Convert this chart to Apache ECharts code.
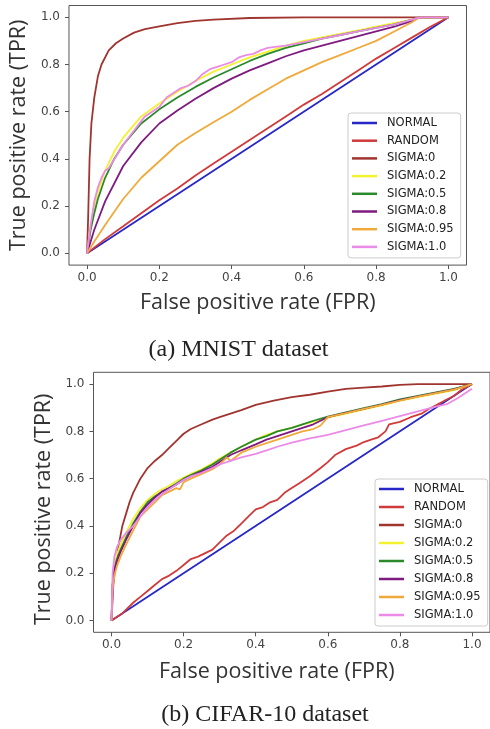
<!DOCTYPE html>
<html>
<head>
<meta charset="utf-8">
<script src="https://cdn.jsdelivr.net/npm/echarts@6/dist/echarts.min.js"></script>
<style>
html,body{margin:0;padding:0;background:#fff;}
#chart{width:490px;height:729px;}
</style>
</head>
<body>
<div id="chart"></div>
<script>
// ---------- labels ----------
var seriesNames = ['NORMAL','RANDOM','SIGMA:0','SIGMA:0.2','SIGMA:0.5','SIGMA:0.8','SIGMA:0.95','SIGMA:1.0'];
var seriesColors = ['#2727c8','#d03a3a','#a0352f','#f2f230','#2a8a2a','#7e1a80','#f0a93a','#ec8ae8'];
var tickValues = [0,0.2,0.4,0.6,0.8,1.0];
var xTitle = 'False positive rate (FPR)';
var yTitle = 'True positive rate (TPR)';
var captionA = '(a) MNIST dataset';
var captionB = '(b) CIFAR-10 dataset';

// ---------- (a) MNIST ----------
var mnistNormal = [[0,0],[1,1]];
var mnistRandom = [[0,0],[0.05,0.06],[0.1,0.115],[0.15,0.17],[0.2,0.225],[0.25,0.275],[0.3,0.33],[0.35,0.38],[0.4,0.43],[0.45,0.48],[0.5,0.53],[0.55,0.58],[0.6,0.63],[0.65,0.675],[0.7,0.725],[0.75,0.775],[0.8,0.825],[0.85,0.87],[0.9,0.915],[0.95,0.96],[1,1]];
var mnistS0 = [[0,0],[0.003,0.15],[0.007,0.4],[0.012,0.55],[0.02,0.66],[0.03,0.75],[0.04,0.8],[0.06,0.86],[0.08,0.89],[0.1,0.91],[0.13,0.935],[0.16,0.95],[0.2,0.962],[0.25,0.975],[0.3,0.985],[0.35,0.99],[0.45,0.997],[0.6,1.0],[1,1]];
var mnistS02 = [[0,0],[0.01,0.12],[0.02,0.2],[0.03,0.26],[0.05,0.35],[0.075,0.43],[0.1,0.49],[0.15,0.58],[0.2,0.635],[0.25,0.685],[0.3,0.73],[0.35,0.77],[0.4,0.8],[0.45,0.83],[0.5,0.855],[0.55,0.88],[0.6,0.9],[0.65,0.915],[0.7,0.93],[0.75,0.945],[0.8,0.96],[0.85,0.975],[0.9,0.99],[0.92,1],[1,1]];
var mnistS05 = [[0,0],[0.01,0.1],[0.02,0.17],[0.03,0.23],[0.05,0.32],[0.075,0.4],[0.1,0.46],[0.15,0.55],[0.2,0.61],[0.25,0.66],[0.3,0.705],[0.35,0.745],[0.4,0.78],[0.45,0.815],[0.5,0.845],[0.55,0.87],[0.6,0.89],[0.65,0.91],[0.7,0.925],[0.75,0.94],[0.8,0.955],[0.85,0.97],[0.9,0.99],[0.92,1],[1,1]];
var mnistS08 = [[0,0],[0.02,0.1],[0.05,0.22],[0.1,0.37],[0.15,0.47],[0.2,0.55],[0.25,0.605],[0.3,0.655],[0.35,0.7],[0.4,0.74],[0.45,0.775],[0.5,0.805],[0.55,0.835],[0.6,0.86],[0.65,0.88],[0.7,0.9],[0.75,0.92],[0.8,0.94],[0.85,0.96],[0.9,0.985],[0.92,1],[1,1]];
var mnistS095 = [[0,0],[0.02,0.05],[0.05,0.12],[0.1,0.23],[0.15,0.32],[0.2,0.39],[0.25,0.46],[0.3,0.51],[0.35,0.555],[0.4,0.6],[0.45,0.65],[0.5,0.695],[0.55,0.74],[0.6,0.775],[0.65,0.81],[0.7,0.84],[0.75,0.87],[0.8,0.9],[0.85,0.94],[0.9,0.98],[0.92,1.0],[1,1]];
var mnistS10 = [[0,0],[0.01,0.12],[0.02,0.22],[0.03,0.28],[0.04,0.32],[0.05,0.35],[0.06,0.36],[0.08,0.41],[0.1,0.46],[0.12,0.5],[0.14,0.54],[0.16,0.58],[0.18,0.6],[0.2,0.62],[0.22,0.66],[0.24,0.68],[0.26,0.7],[0.28,0.71],[0.3,0.73],[0.32,0.76],[0.34,0.78],[0.36,0.79],[0.38,0.8],[0.4,0.81],[0.42,0.83],[0.44,0.84],[0.46,0.845],[0.48,0.86],[0.5,0.87],[0.52,0.875],[0.55,0.88],[0.6,0.895],[0.65,0.91],[0.7,0.925],[0.75,0.94],[0.8,0.955],[0.85,0.97],[0.9,0.99],[0.92,1],[1,1]];

// ---------- (b) CIFAR-10 ----------
var cifarNormal = [[0,0],[1,1]];
var cifarRandom = [[0,0],[0.03,0.03],[0.06,0.075],[0.08,0.1],[0.1,0.125],[0.12,0.15],[0.14,0.175],[0.16,0.19],[0.18,0.21],[0.2,0.235],[0.22,0.26],[0.24,0.27],[0.26,0.285],[0.28,0.3],[0.3,0.33],[0.32,0.36],[0.34,0.38],[0.36,0.41],[0.38,0.44],[0.4,0.47],[0.42,0.48],[0.44,0.5],[0.46,0.51],[0.48,0.54],[0.5,0.56],[0.52,0.58],[0.55,0.61],[0.58,0.645],[0.6,0.67],[0.62,0.7],[0.65,0.725],[0.68,0.74],[0.7,0.755],[0.72,0.765],[0.74,0.775],[0.76,0.8],[0.77,0.83],[0.8,0.84],[0.83,0.86],[0.86,0.875],[0.88,0.895],[0.9,0.91],[0.93,0.935],[0.95,0.95],[0.97,0.975],[1,1]];
var cifarS0 = [[0,0],[0.005,0.15],[0.01,0.22],[0.015,0.27],[0.02,0.32],[0.03,0.4],[0.04,0.45],[0.05,0.5],[0.06,0.54],[0.08,0.6],[0.1,0.645],[0.12,0.675],[0.14,0.7],[0.16,0.73],[0.18,0.76],[0.2,0.79],[0.22,0.81],[0.25,0.83],[0.28,0.85],[0.3,0.86],[0.33,0.875],[0.36,0.89],[0.4,0.912],[0.45,0.93],[0.5,0.945],[0.55,0.955],[0.6,0.968],[0.65,0.98],[0.7,0.985],[0.75,0.99],[0.8,0.997],[0.85,1.0],[1,1]];
var cifarS02 = [[0,0],[0.003,0.16],[0.008,0.23],[0.015,0.28],[0.025,0.32],[0.04,0.37],[0.06,0.43],[0.08,0.475],[0.1,0.51],[0.12,0.535],[0.14,0.555],[0.16,0.57],[0.18,0.59],[0.2,0.605],[0.22,0.62],[0.25,0.64],[0.28,0.665],[0.3,0.685],[0.33,0.71],[0.36,0.735],[0.4,0.765],[0.43,0.785],[0.46,0.8],[0.5,0.815],[0.53,0.83],[0.56,0.84],[0.6,0.858],[0.65,0.875],[0.7,0.893],[0.75,0.91],[0.8,0.93],[0.85,0.945],[0.9,0.96],[0.95,0.975],[1,1]];
var cifarS05 = [[0,0],[0.003,0.15],[0.008,0.22],[0.015,0.26],[0.025,0.3],[0.04,0.35],[0.06,0.41],[0.08,0.46],[0.1,0.5],[0.12,0.525],[0.14,0.545],[0.16,0.56],[0.18,0.58],[0.2,0.6],[0.22,0.615],[0.25,0.635],[0.28,0.66],[0.3,0.68],[0.33,0.71],[0.36,0.735],[0.4,0.765],[0.43,0.78],[0.46,0.8],[0.5,0.815],[0.53,0.83],[0.56,0.845],[0.6,0.862],[0.65,0.88],[0.7,0.898],[0.75,0.915],[0.8,0.935],[0.85,0.95],[0.9,0.965],[0.95,0.98],[1,1]];
var cifarS08 = [[0,0],[0.003,0.15],[0.008,0.21],[0.015,0.25],[0.025,0.29],[0.04,0.34],[0.06,0.4],[0.08,0.455],[0.1,0.49],[0.12,0.52],[0.14,0.545],[0.16,0.56],[0.18,0.575],[0.2,0.595],[0.22,0.61],[0.25,0.63],[0.28,0.65],[0.3,0.67],[0.33,0.7],[0.36,0.72],[0.4,0.745],[0.43,0.765],[0.46,0.78],[0.5,0.8],[0.53,0.815],[0.56,0.83],[0.6,0.86],[0.65,0.878],[0.7,0.895],[0.75,0.913],[0.8,0.932],[0.85,0.948],[0.9,0.963],[0.95,0.978],[1,1]];
var cifarS095 = [[0,0],[0.003,0.13],[0.008,0.19],[0.015,0.23],[0.025,0.27],[0.04,0.32],[0.06,0.38],[0.08,0.44],[0.1,0.47],[0.12,0.5],[0.14,0.53],[0.16,0.545],[0.18,0.56],[0.19,0.555],[0.2,0.585],[0.22,0.6],[0.25,0.62],[0.28,0.64],[0.3,0.66],[0.32,0.69],[0.33,0.675],[0.36,0.71],[0.4,0.735],[0.43,0.75],[0.46,0.765],[0.5,0.785],[0.53,0.8],[0.56,0.81],[0.58,0.825],[0.6,0.86],[0.65,0.877],[0.7,0.895],[0.75,0.912],[0.8,0.93],[0.85,0.947],[0.9,0.962],[0.95,0.977],[1,1]];
var cifarS10 = [[0,0],[0.003,0.2],[0.008,0.27],[0.015,0.31],[0.025,0.34],[0.04,0.37],[0.06,0.4],[0.08,0.44],[0.1,0.48],[0.12,0.51],[0.14,0.535],[0.16,0.555],[0.18,0.575],[0.2,0.595],[0.22,0.61],[0.25,0.625],[0.28,0.645],[0.3,0.66],[0.33,0.675],[0.36,0.69],[0.4,0.705],[0.43,0.72],[0.46,0.735],[0.5,0.752],[0.55,0.77],[0.6,0.785],[0.65,0.805],[0.7,0.825],[0.75,0.845],[0.8,0.865],[0.85,0.885],[0.9,0.905],[0.93,0.915],[0.96,0.94],[1,0.98]];

var mnistData = [mnistNormal, mnistRandom, mnistS0, mnistS02, mnistS05, mnistS08, mnistS095, mnistS10];
var cifarData = [cifarNormal, cifarRandom, cifarS0, cifarS02, cifarS05, cifarS08, cifarS095, cifarS10];

// ---------- build ----------
var chart = echarts.init(document.getElementById('chart'), null, {renderer:'canvas'});
var tickFont = {fontFamily:'DejaVu Sans', fontSize:12, color:'#444'};
var titleFont = {fontFamily:'Open Sans', fontSize:21.5, color:'#333'};

function makeX(gridIndex, padRight, gap) {
  return {
    type:'value', gridIndex:gridIndex, min:-0.05, max:1.05,
    axisLine:{show:false, onZero:false}, splitLine:{show:false},
    axisTick:{show:true, inside:false, length:4, customValues:tickValues, lineStyle:{color:'#555'}},
    axisLabel:Object.assign({customValues:tickValues, margin:7, formatter:function(v){return v.toFixed(1);}}, tickFont),
    name:xTitle, nameLocation:'middle', nameGap:gap,
    nameTextStyle:Object.assign({padding:[0,padRight,0,0]}, titleFont)
  };
}
function makeY(gridIndex, gap, padRight) {
  return {
    type:'value', gridIndex:gridIndex, min:-0.05, max:1.05,
    axisLine:{show:false, onZero:false}, splitLine:{show:false},
    axisTick:{show:true, inside:false, length:4, customValues:tickValues, lineStyle:{color:'#555'}},
    axisLabel:Object.assign({customValues:tickValues, margin:9, formatter:function(v){return v.toFixed(1);}}, tickFont),
    name:yTitle, nameLocation:'middle', nameGap:gap, nameRotate:90,
    nameTextStyle:Object.assign({padding:[0,padRight,0,0]}, titleFont)
  };
}
function makeLegend(left, top, gap) {
  return {
    orient:'vertical', left:left, top:top, data:seriesNames,
    icon:'rect', itemWidth:25, itemHeight:2.5, itemGap:gap,
    padding:[3,7,4,4],
    backgroundColor:'rgba(255,255,255,0.85)', borderColor:'#ccc', borderWidth:1, borderRadius:3,
    textStyle:{fontFamily:'DejaVu Sans', fontSize:11.5, color:'#222', lineHeight:14, padding:[0,0,0,5]},
    selectedMode:false
  };
}

var series = [];
function addSeries(dataList, idx) {
  for (var i = 0; i < seriesNames.length; i++) {
    series.push({
      name:seriesNames[i], type:'line', xAxisIndex:idx, yAxisIndex:idx,
      data:dataList[i], showSymbol:false, symbol:'none',
      lineStyle:{color:seriesColors[i], width:1.8}, itemStyle:{color:seriesColors[i]},
      z:2+i, animation:false
    });
  }
}
addSeries(mnistData, 0);
addSeries(cifarData, 1);

var option = {
  backgroundColor:'#fff',
  animation:false,
  grid:[
    {left:66, top:5.5, width:400.5, height:259.6, show:true, borderColor:'#555', borderWidth:1, backgroundColor:'transparent'},
    {left:93.5, top:372.3, width:400.7, height:260, show:true, borderColor:'#555', borderWidth:1, backgroundColor:'transparent'}
  ],
  xAxis:[makeX(0, 20, 27), makeX(1, 30, 29)],
  yAxis:[makeY(0, 36, 0), makeY(1, 33.5, 14)],
  legend:[makeLegend(348, 113, 3.7), makeLegend(375, 479, 4)],
  series:series,
  graphic:[
    {type:'text', style:{text:captionA, x:238.5, y:350, fill:'#222', font:'24px "Liberation Serif"', align:'center', verticalAlign:'middle'}},
    {type:'text', style:{text:captionB, x:265, y:715, fill:'#222', font:'24px "Liberation Serif"', align:'center', verticalAlign:'middle'}}
  ]
};
chart.setOption(option);
</script>
</body>
</html>
